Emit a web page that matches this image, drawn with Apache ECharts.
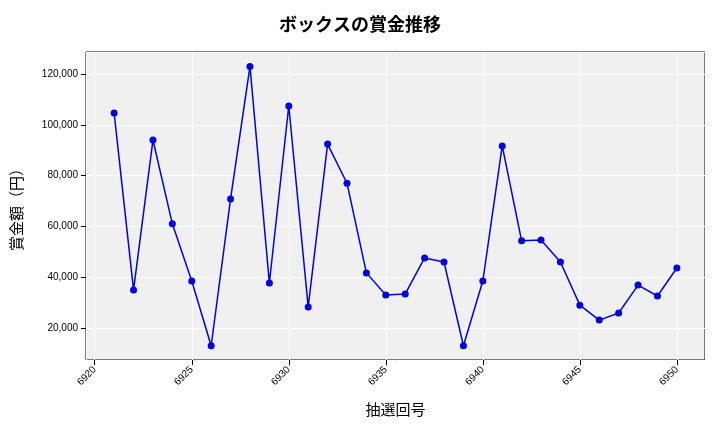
<!DOCTYPE html>
<html><head><meta charset="utf-8">
<script src="https://cdn.jsdelivr.net/npm/echarts@6/dist/echarts.min.js"></script>
<style>body{margin:0}#c{width:720px;height:432px}</style></head>
<body><div id="c"></div>
<script>
const draws=[6921,6922,6923,6924,6925,6926,6927,6928,6929,6930,6931,6932,6933,6934,6935,6936,6937,6938,6939,6940,6941,6942,6943,6944,6945,6946,6947,6948,6949,6950];
const prizes=[104600,35000,94000,61000,38500,13000,70800,123000,37700,107400,28300,92400,77000,41700,33000,33400,47600,46000,13000,38500,91700,54300,54600,46000,29000,23100,25900,36900,32600,43600];
const chart=echarts.init(document.getElementById('c'));
const font='"Noto Sans CJK JP","Noto Sans",sans-serif';
chart.setOption({
  title:{text:'ボックスの賞金推移',left:'center',top:10,textStyle:{fontFamily:font,fontSize:18,fontWeight:'bold',color:'#000'}},
  grid:{left:86,right:15,top:52,bottom:72,backgroundColor:'#f0f0f0',show:true,borderColor:'#000',borderWidth:1},
  xAxis:{type:'value',min:6919.55,max:6951.45,splitNumber:6,name:'抽選回号',nameLocation:'middle',nameGap:42,
    nameTextStyle:{fontFamily:font,fontSize:15,color:'#000'},
    axisLine:{show:false},axisTick:{show:true,lineStyle:{color:'#000'}},
    axisLabel:{rotate:45,fontSize:10,color:'#000',showMinLabel:false,showMaxLabel:false,formatter:v=>(Math.abs(v%5)<1e-6?String(Math.round(v)):'')},
    splitLine:{show:true,lineStyle:{color:'#fff',width:1}}},
  yAxis:{type:'value',min:7400,max:128660,splitNumber:6,name:'賞金額（円）',nameLocation:'middle',nameGap:62,
    nameTextStyle:{fontFamily:font,fontSize:15,color:'#000'},
    axisLine:{show:false},axisTick:{show:true,lineStyle:{color:'#000'}},
    axisLabel:{fontSize:10,color:'#000',showMinLabel:false,showMaxLabel:false,formatter:v=>(v%20000===0?v.toLocaleString('en-US'):'')},
    splitLine:{show:true,lineStyle:{color:'#fff',width:1}}},
  series:[{type:'line',data:draws.map((d,i)=>[d,prizes[i]]),symbol:'circle',symbolSize:7,
    lineStyle:{color:'#0000ee',width:1.5},itemStyle:{color:'#0000ee'},animation:false}]
});
</script></body></html>
